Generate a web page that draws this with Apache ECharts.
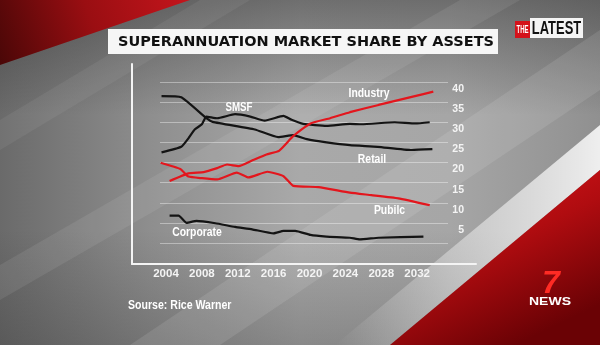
<!DOCTYPE html>
<html><head><meta charset="utf-8">
<script src="https://cdn.jsdelivr.net/npm/echarts@6/dist/echarts.min.js"></script>
<style>html,body{margin:0;padding:0;background:#8a8a8a;}#c{width:600px;height:345px;}</style>
</head><body><div id="c"></div>
<script>
// ---- data ----
const titleText = 'SUPERANNUATION MARKET SHARE BY ASSETS';
const sourceText = 'Sourse: Rice Warner';
const xTickLabels = [2004, 2008, 2012, 2016, 2020, 2024, 2028, 2032];
const yTickLabels = [5, 10, 15, 20, 25, 30, 35, 40];

const retailYears  = [2003.5, 2005.7, 2008.5, 2009.2, 2013.9, 2016.5, 2018.2, 2019.7, 2021.9, 2024.5, 2027.6, 2031.4, 2033.7];
const retailValues = [36.5, 36.2, 31.0, 30.1, 28.2, 26.3, 26.8, 25.8, 25.0, 24.3, 23.9, 23.1, 23.3];

const smsfYears  = [2003.5, 2005.7, 2006.5, 2007.2, 2008.0, 2008.5, 2009.7, 2011.7, 2013.4, 2015.0, 2017.1, 2018.0, 2019.3, 2021.9, 2024.5, 2025.8, 2029.5, 2031.8, 2033.4];
const smsfValues = [22.5, 23.9, 26.0, 28.2, 29.5, 31.4, 31.0, 32.0, 31.4, 30.4, 31.6, 30.6, 29.6, 29.1, 29.6, 29.5, 30.0, 29.7, 30.0];

const industryYears  = [2004.4, 2006.5, 2008.2, 2009.7, 2010.8, 2012.1, 2013.7, 2015.2, 2016.6, 2018.2, 2020.1, 2022.3, 2024.5, 2027.7, 2031.4, 2033.8];
const industryValues = [15.4, 17.3, 17.6, 18.6, 19.5, 19.1, 20.6, 22.0, 22.9, 26.6, 29.7, 31.0, 32.5, 34.3, 36.3, 37.6];

const publicYears  = [2003.4, 2005.6, 2006.5, 2008.0, 2009.7, 2011.9, 2013.2, 2015.3, 2017.1, 2018.2, 2021.0, 2024.5, 2026.9, 2029.9, 2033.4];
const publicValues = [19.95, 18.4, 16.5, 16.1, 15.8, 17.5, 16.3, 17.7, 16.6, 14.2, 13.9, 12.5, 11.9, 11.1, 9.4];

const corporateYears  = [2004.4, 2005.4, 2006.3, 2007.4, 2009.5, 2011.7, 2013.6, 2016.0, 2017.1, 2018.4, 2020.1, 2021.9, 2024.5, 2025.6, 2027.7, 2032.7];
const corporateValues = [6.8, 6.8, 5.0, 5.5, 4.9, 4.0, 3.4, 2.4, 3.0, 3.0, 2.0, 1.6, 1.3, 0.9, 1.3, 1.6];

// ---- chart ----
const chart = echarts.init(document.getElementById('c'), null, {renderer: 'canvas', width: 600, height: 345});
const pair = (xs, ys) => xs.map((x, i) => [x, ys[i]]);
const BLACK = '#141414', RED = '#e3161d';
const FONT = '"Liberation Sans", Arial, sans-serif';
const lineSeries = (name, xs, ys, color) => ({
  type: 'line', name, data: pair(xs, ys), xAxisIndex: 0, yAxisIndex: 0,
  symbol: 'none', showSymbol: false, smooth: 0.15, z: 5,
  lineStyle: {color, width: 2.2}, itemStyle: {color}
});
const lbl = (text, x, y, size, sx, fill, align) => ({
  type: 'text', x, y, scaleX: sx, z: 100,
  style: {text, x: 0, y: 0, fill: fill || '#fff', font: 'bold ' + size + 'px ' + FONT,
    textAlign: align || 'center', textVerticalAlign: 'middle'}
});
const poly = (points, fill, z) => ({type: 'polygon', z: z, silent: true, shape: {points}, style: {fill}});
const grad = (x, y, x2, y2, stops) => new echarts.graphic.LinearGradient(x, y, x2, y2, stops.map((c, i) => ({offset: i / (stops.length - 1), color: c})));

const background = [
  {type: 'rect', z: -20, silent: true, shape: {x: 0, y: 0, width: 600, height: 345},
    style: {fill: grad(0, 0, 1, 0, ['#6a6a6a', '#8e8e8e', '#a9a9a9', '#a6a6a6', '#909090'])}},
  {type: 'rect', z: -19, silent: true, shape: {x: 0, y: 0, width: 600, height: 345},
    style: {fill: grad(0, 0, 0, 1, ['rgba(40,40,40,0.45)', 'rgba(40,40,40,0.0)', 'rgba(40,40,40,0.0)', 'rgba(40,40,40,0.25)'])}},
  poly([[0, 265], [0, 300], [520, 0], [460, 0]], 'rgba(255,255,255,0.08)', -18),
  poly([[130, 345], [220, 345], [600, 90], [600, 30]], 'rgba(255,255,255,0.10)', -18),
  poly([[0, 120], [0, 150], [250, 0], [200, 0]], 'rgba(255,255,255,0.06)', -18),
  poly([[0, 0], [190, 0], [0, 65]], grad(1, 0, 0, 1, ['#c4151c', '#9a0e12', '#4a0707']), -17),
  poly([[335, 345], [390, 345], [600, 170], [600, 125]], grad(1, 0, 0, 0, ['rgba(255,255,255,0.85)', 'rgba(255,255,255,0.0)']), -17),
  poly([[390, 345], [600, 345], [600, 170]], grad(0.2, 0, 0.6, 1, ['#e0161c', '#b00c10', '#6a0205']), -16)
];

const overlay = [
  {type: 'rect', z: 90, shape: {x: 108, y: 29, width: 390, height: 25}, style: {fill: '#f6f6f6'}},
  {type: 'text', x: 306, y: 42, z: 100, style: {text: titleText, fill: '#111', font: 'bold 14.5px "DejaVu Sans", ' + FONT, textAlign: 'center', textVerticalAlign: 'middle'}},
  {type: 'rect', z: 90, shape: {x: 515, y: 21, width: 15, height: 17}, style: {fill: '#d4111a'}},
  lbl('THE', 522.5, 30, 10, 0.6, '#fff'),
  {type: 'rect', z: 90, shape: {x: 530, y: 18, width: 53, height: 20}, style: {fill: '#f4f4f4'}},
  lbl('LATEST', 556.5, 29, 19, 0.68, '#111'),
  {type: 'text', x: 551, y: 284, z: 100, style: {text: '7', fill: '#ff2b24', font: 'italic bold 32px ' + FONT, textAlign: 'center', textVerticalAlign: 'middle'}},
  lbl('NEWS', 550, 302, 10, 1.4, '#fff'),
  lbl('SMSF', 239, 107, 13, 0.75),
  lbl('Industry', 369, 93, 13, 0.8),
  lbl('Retail', 372, 159, 13, 0.8),
  lbl('Pubilc', 389.5, 210, 13, 0.8),
  lbl('Corporate', 197, 232, 13, 0.8),
  lbl(sourceText, 128, 306, 12, 0.88, '#fff', 'left')
];

const option = {
  animation: false,
  backgroundColor: 'transparent',
  grid: [
    {left: 160, right: 152, top: 82, bottom: 102},
    {left: 132, right: 124, top: 64, bottom: 81}
  ],
  xAxis: [
    {type: 'value', gridIndex: 0, min: 2003.33, max: 2035.44,
      axisLine: {show: false}, axisTick: {show: false}, splitLine: {show: false},
      axisLabel: {customValues: xTickLabels, color: '#f4f4f4', fontSize: 11.5, fontWeight: 'bold', fontFamily: FONT, margin: 25, formatter: v => String(v)}},
    {type: 'value', gridIndex: 1, min: 0, max: 1,
      axisLine: {show: true, lineStyle: {color: '#f4f4f4', width: 2}}, axisTick: {show: false}, axisLabel: {show: false}, splitLine: {show: false}}
  ],
  yAxis: [
    {type: 'value', gridIndex: 0, position: 'right', min: 0, max: 40, interval: 5,
      axisLine: {show: false}, axisTick: {show: false},
      splitLine: {show: true, lineStyle: {color: 'rgba(255,255,255,0.38)', width: 1}},
      axisLabel: {color: '#f4f4f4', fontSize: 10.5, fontWeight: 'bold', fontFamily: FONT, align: 'right', margin: 16,
        verticalAlign: 'top', lineHeight: 14,
        formatter: v => yTickLabels.indexOf(v) >= 0 ? String(v) : ''}},
    {type: 'value', gridIndex: 1, min: 0, max: 1,
      axisLine: {show: true, lineStyle: {color: '#f4f4f4', width: 2}}, axisTick: {show: false}, axisLabel: {show: false}, splitLine: {show: false}}
  ],
  graphic: [
    {type: 'group', z: -20, children: background},
    {type: 'group', z: 100, children: overlay}
  ],
  series: [
    lineSeries('Retail', retailYears, retailValues, BLACK),
    lineSeries('SMSF', smsfYears, smsfValues, BLACK),
    lineSeries('Corporate', corporateYears, corporateValues, BLACK),
    lineSeries('Industry', industryYears, industryValues, RED),
    lineSeries('Public', publicYears, publicValues, RED)
  ]
};
chart.setOption(option);
</script></body></html>
